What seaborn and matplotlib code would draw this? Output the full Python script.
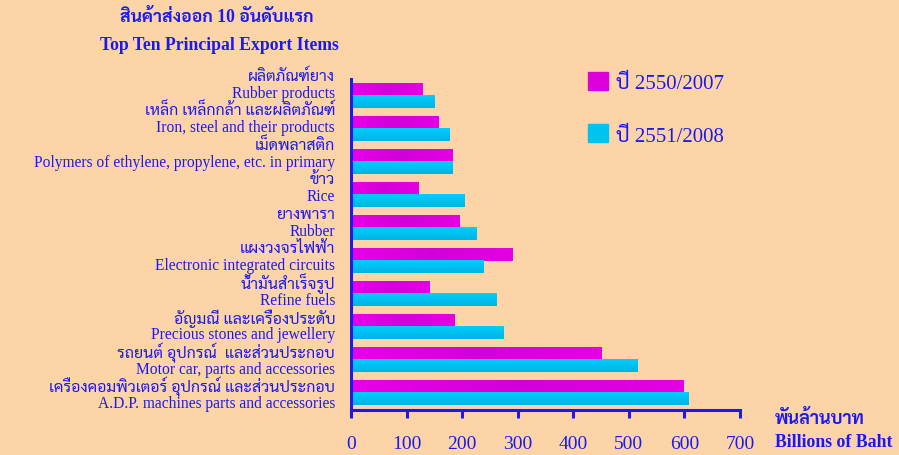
import matplotlib
matplotlib.use('Agg')
import matplotlib.pyplot as plt
import matplotlib.patches as mpatches
import matplotlib.transforms as mtransforms
from matplotlib.colors import LinearSegmentedColormap, to_hex
import numpy as np
import pandas as pd
import seaborn as sns

# data (billions of baht)
thai_labels = ['ผลิตภัณฑ์ยาง', 'เหล็ก เหล็กกล้า และผลิตภัณฑ์', 'เม็ดพลาสติก', 'ข้าว', 'ยางพารา',
               'แผงวงจรไฟฟ้า', 'น้ำมันสำเร็จรูป', 'อัญมณี และเครื่องประดับ',
               'รถยนต์ อุปกรณ์  และส่วนประกอบ', 'เครื่องคอมพิวเตอร์ อุปกรณ์ และส่วนประกอบ']
eng_labels = ['Rubber products', 'Iron, steel and their products',
              'Polymers of ethylene, propylene, etc. in primary', 'Rice', 'Rubber',
              'Electronic integrated circuits', 'Refine fuels', 'Precious stones and jewellery',
              'Motor car, parts and accessories', 'A.D.P. machines parts and accessories']
v2007 = [128, 158, 182, 121, 196, 291, 142, 187, 450, 599]
v2008 = [151, 178, 182, 205, 225, 239, 261, 275, 515, 608]
years = ['ปี 2550/2007', 'ปี 2551/2008']

bg = '#FDD4A7'
blue = '#1A1AF0'
colors = ['#E000E0', '#00C4F0']

df = pd.DataFrame({
    'item': eng_labels * 2,
    'value': v2007 + v2008,
    'year': [years[0]] * len(v2007) + [years[1]] * len(v2008),
})

# latin in a Times-like face, thai falls back to Sarabun
serif = ['Liberation Serif', 'Sarabun', 'DejaVu Sans']

fig = plt.figure(figsize=(8.99, 4.56), dpi=100, facecolor=bg)
ax = fig.add_axes([351 / 899, 1 - 411 / 456, 389 / 899, 331 / 456])
ax.set_facecolor(bg)

sns.barplot(data=df, y='item', x='value', hue='year', palette=colors, orient='h',
            width=0.76, saturation=1, legend=False, ax=ax)

# gradient fill like the original: magenta shades along the bar, cyan top to bottom
mag_cmap = LinearSegmentedColormap.from_list('mag', ['#E800E8', '#D200D8', '#E400E4'])
cyan_cmap = LinearSegmentedColormap.from_list('cyan', ['#00CEFF', '#00B3E3'])
grad = np.linspace(0, 1, 256)
for bar in list(ax.patches):
    x0, y0, w, h = bar.get_x(), bar.get_y(), bar.get_width(), bar.get_height()
    if to_hex(bar.get_facecolor()) == colors[0].lower():
        img, cmap = grad.reshape(1, -1), mag_cmap
    else:
        img, cmap = grad.reshape(-1, 1), cyan_cmap
    ax.imshow(img, cmap=cmap, extent=(x0, x0 + w, y0 + h, y0), aspect='auto',
              interpolation='bilinear', zorder=2)
    bar.set_visible(False)

ax.set_xlim(0, 700)
ax.set_ylim(9.53, -0.5)
ax.set_xticks(range(0, 701, 100))
ax.set_yticks([])
ax.set_xlabel('')
ax.set_ylabel('')
for s in ['top', 'right']:
    ax.spines[s].set_visible(False)
for s in ['left', 'bottom']:
    ax.spines[s].set_color(blue)
    ax.spines[s].set_linewidth(2.2)
    ax.spines[s].set_zorder(3)
ax.tick_params(axis='x', colors=blue, length=6, width=2.2, pad=12, labelsize=14)
for t in ax.get_xticklabels():
    t.set_family(serif)

# category labels, thai line above english line
trans = mtransforms.blended_transform_factory(ax.transAxes, ax.transData)
step = 34.5 / 33
for i, (th, en) in enumerate(zip(thai_labels, eng_labels)):
    ax.text(-0.041, -0.6 + i * step, th, transform=trans, ha='right', va='center',
            color=blue, fontsize=11.5, family=serif, clip_on=False)
    ax.text(-0.041, -0.08 + i * step, en, transform=trans, ha='right', va='center',
            color=blue, fontsize=11.2, family=serif, clip_on=False)

fig.text(217 / 899, 1 - 17 / 456, 'สินค้าส่งออก 10 อันดับแรก', ha='center', va='center',
         color=blue, fontsize=12.7, fontweight='bold', family=serif)
fig.text(219 / 899, 1 - 45 / 456, 'Top Ten Principal Export Items', ha='center', va='center',
         color=blue, fontsize=12.7, fontweight='bold', family=serif)
fig.text(775 / 899, 1 - 419 / 456, 'พันล้านบาท', ha='left', va='center',
         color=blue, fontsize=13, fontweight='bold', family=serif)
fig.text(775 / 899, 1 - 443 / 456, 'Billions of Baht', ha='left', va='center',
         color=blue, fontsize=12.8, fontweight='bold', family=serif)

handles = [mpatches.Patch(color='#DC00DC'), mpatches.Patch(color='#00C4F0')]
ax.legend(handles, years, loc='upper left', bbox_to_anchor=(588 / 899, 1 - 73 / 456),
          bbox_transform=fig.transFigure, frameon=False,
          prop={'family': serif, 'size': 15}, labelcolor=blue,
          handlelength=0.95, handleheight=0.95, handletextpad=0.4,
          labelspacing=1.5, borderpad=0, borderaxespad=0)

fig.savefig('out.png', dpi=100, facecolor=bg)
